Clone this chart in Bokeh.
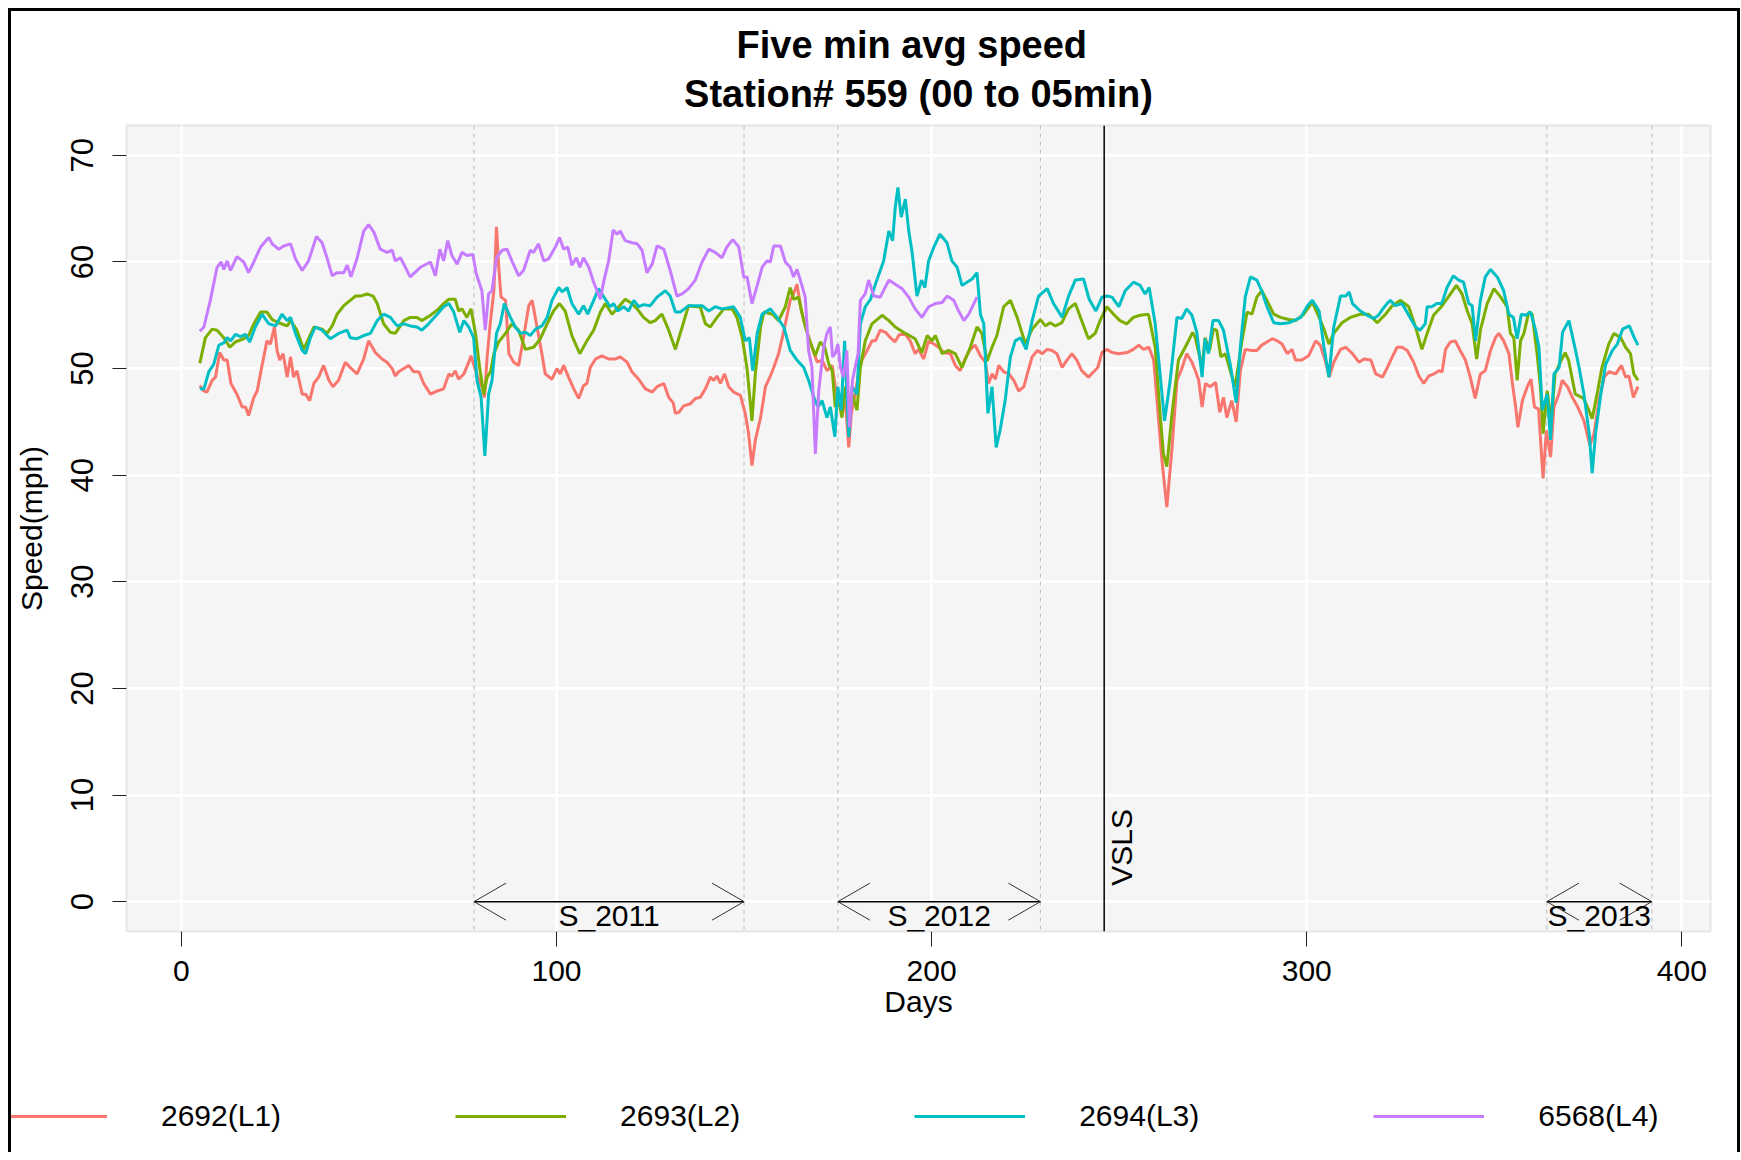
import math
from bokeh.plotting import figure
from bokeh.models import Range1d, FixedTicker, Span, Legend, LegendItem, Title, Div
from bokeh.core.properties import value
from bokeh.embed import file_html
from bokeh.resources import INLINE

FONT = "Liberation Sans"

series_names = ["2692(L1)", "2693(L2)", "2694(L3)", "6568(L4)"]
series_colors = ["#F8766D", "#7CAE00", "#00BFC4", "#C77CFF"]

l1_pts = [(4.9,48.4),(6.0,47.9),(6.8,47.8),(8.2,48.9),(9.1,49.2),(10.2,51.5),(11.3,50.8),(12.2,50.8),(13.2,48.6),(14.8,47.6),(16.2,46.4),(17.1,46.4),(17.9,45.6),(19.3,47.3),(20.2,47.9),(21.5,50.3),(22.8,52.6),(23.7,52.3),(24.8,53.9),(25.5,51.7),(26.2,50.8),(27.1,51.4),(28.2,49.2),(29.1,51.1),(29.9,49.2),(30.8,49.8),(32.2,47.6),(33.1,47.6),(34.2,47.0),(35.3,48.6),(36.6,49.2),(37.9,50.3),(39.3,48.9),(40.4,48.3),(41.9,48.9),(43.7,50.6),(45.0,50.1),(46.8,49.5),(48.6,50.9),(49.9,52.6),(51.7,51.5),(53.5,50.9),(54.8,50.6),(56.2,50.0),(57.0,49.3),(57.9,49.7),(59.3,50.0),(60.6,50.3),(61.9,49.7),(63.3,49.7),(64.6,48.6),(66.4,47.6),(68.2,47.9),(69.9,48.1),(71.3,49.5),(72.1,49.3),(73.0,49.8),(73.9,49.0),(75.3,49.5),(76.6,50.6),(77.2,51.2),(77.9,50.4),(79.0,49.2),(80.1,48.3),(80.8,47.3),(81.5,51.1),(82.4,54.5),(83.3,57.3),(84.0,63.3),(84.6,59.5),(85.2,56.7),(86.4,56.4),(87.3,51.4),(88.6,50.6),(89.9,50.3),(91.2,52.9),(92.6,55.9),(93.5,56.4),(94.8,53.9),(96.1,51.4),(97.0,49.5),(98.8,49.0),(100.1,50.0),(101.0,49.5),(101.9,50.3),(103.2,49.2),(104.6,48.1),(105.9,47.2),(107.2,48.4),(108.1,48.6),(109.0,50.1),(110.4,50.9),(112.1,51.2),(113.9,50.9),(115.7,50.9),(117.0,51.1),(118.8,50.6),(120.1,49.7),(121.9,49.0),(123.7,48.1),(125.5,47.8),(126.8,48.3),(128.6,48.6),(129.9,47.3),(131.1,46.8),(131.7,45.8),(132.6,45.9),(133.9,46.5),(135.7,46.7),(137.0,47.2),(138.3,47.3),(139.7,48.1),(141.0,49.2),(141.9,48.9),(142.8,49.3),(143.7,48.6),(144.8,49.5),(145.9,48.3),(147.2,47.8),(149.0,47.5),(150.3,45.8),(151.2,43.9),(152.1,40.9),(153.0,43.3),(154.4,45.4),(155.7,48.3),(157.0,49.3),(157.9,50.1),(159.2,51.4),(160.2,52.9),(161.0,54.2),(162.3,56.4),(163.2,57.0),(164.1,57.9),(165.3,55.4),(166.8,53.4),(168.1,52.0),(169.5,50.6),(170.8,50.8),(172.1,49.8),(173.5,50.3),(174.3,48.3),(175.2,47.0),(176.1,45.8),(177.0,47.0),(177.9,42.6),(178.6,45.8),(179.6,47.6),(180.5,49.5),(181.4,50.8),(182.8,51.7),(184.1,52.6),(185.0,52.6),(186.3,53.6),(187.7,53.4),(189.0,52.9),(190.2,52.5),(191.4,53.2),(193.0,53.2),(194.3,52.6),(195.6,51.4),(196.5,51.8),(197.9,50.9),(199.2,52.6),(200.6,52.3),(201.9,52.0),(203.2,51.5),(205.0,51.4),(206.3,50.3),(207.6,49.8),(208.9,50.9),(210.3,51.8),(211.6,52.2),(213.0,51.2),(214.3,50.6),(215.2,48.6),(216.1,49.5),(217.0,49.0),(217.9,50.3),(219.2,49.7),(220.6,49.5),(221.9,48.9),(223.2,47.9),(224.6,48.3),(225.5,49.5),(226.8,51.1),(228.2,51.7),(229.5,51.4),(230.8,51.8),(232.1,51.7),(233.4,51.4),(234.8,50.1),(236.1,50.8),(237.4,51.4),(238.7,50.8),(240.0,49.8),(241.8,49.2),(243.2,49.7),(244.3,50.1),(245.4,51.5),(246.7,51.8),(248.1,51.5),(249.9,51.4),(252.1,51.5),(253.8,51.8),(255.2,52.2),(256.5,51.8),(257.9,52.0),(259.2,50.8),(260.3,46.1),(261.4,41.4),(262.7,37.0),(264.1,42.6),(265.4,48.9),(266.7,50.0),(268.0,51.4),(269.4,50.6),(270.3,49.8),(271.2,48.9),(272.1,46.4),(273.0,48.6),(274.3,48.3),(275.7,48.7),(276.8,45.9),(277.8,47.3),(278.7,45.4),(280.0,47.0),(281.2,45.0),(282.3,49.8),(283.6,51.8),(285.4,51.7),(286.7,51.7),(288.0,52.2),(289.4,52.5),(290.8,52.8),(292.1,52.6),(293.4,52.3),(294.8,51.4),(296.1,51.8),(297.0,50.8),(298.7,50.8),(300.5,51.2),(302.4,52.6),(303.6,52.2),(304.9,50.8),(306.0,49.2),(307.2,50.6),(309.0,51.8),(310.4,52.0),(312.2,51.4),(313.9,50.6),(315.3,50.9),(317.1,50.8),(318.4,49.5),(320.2,49.2),(321.5,50.1),(322.8,51.1),(324.1,52.0),(325.4,52.0),(326.8,51.7),(328.5,50.6),(329.9,49.3),(331.2,48.6),(332.5,49.3),(333.9,49.5),(335.2,49.8),(336.1,49.7),(337.0,51.8),(338.3,52.5),(339.6,52.6),(340.9,51.7),(342.3,50.8),(343.6,49.2),(344.9,47.2),(346.3,49.5),(347.6,49.8),(349.0,51.7),(350.3,52.9),(351.2,53.3),(352.5,52.6),(353.9,51.4),(354.8,48.7),(355.7,46.4),(356.3,44.5),(357.5,47.0),(358.8,48.3),(359.8,49.0),(360.7,46.4),(361.8,46.2),(363.0,39.7),(363.9,44.2),(365.0,41.7),(365.9,46.4),(367.2,47.6),(368.1,48.9),(369.5,48.3),(370.8,47.3),(372.1,46.5),(373.9,45.1),(375.5,42.8),(376.6,43.9),(377.9,47.0),(379.3,49.2),(380.6,49.7),(382.4,49.5),(383.9,50.3),(385.0,49.2),(385.9,49.3),(387.1,47.3),(388.3,48.3)]

l2_pts = [(4.9,50.5),(6.4,52.9),(8.2,53.7),(9.5,53.6),(11.3,52.9),(12.9,52.0),(14.4,52.5),(16.6,52.8),(17.9,53.1),(19.3,54.2),(21.1,55.3),(22.8,55.3),(24.2,54.6),(25.9,54.3),(28.2,54.0),(29.1,54.5),(30.8,53.6),(32.6,51.8),(35.3,53.9),(37.5,53.7),(38.8,53.3),(40.2,54.0),(41.5,55.1),(43.3,55.9),(45.0,56.4),(46.4,56.8),(47.7,56.8),(49.5,57.0),(51.1,56.8),(52.2,56.1),(53.9,54.2),(55.7,53.4),(57.0,53.3),(59.3,54.5),(61.0,54.8),(62.8,54.8),(64.1,54.5),(66.4,55.0),(68.6,55.6),(69.9,56.1),(71.3,56.5),(73.0,56.5),(73.9,55.4),(74.8,55.6),(76.1,54.8),(77.2,55.6),(78.4,53.3),(79.5,50.1),(80.6,47.6),(81.5,49.2),(82.4,49.7),(83.3,51.4),(84.6,52.5),(86.4,53.3),(88.1,54.2),(89.9,53.6),(91.7,51.8),(93.9,52.0),(95.7,52.8),(97.5,54.2),(99.2,55.4),(100.8,56.1),(102.3,55.4),(104.1,53.1),(106.2,51.4),(108.1,52.6),(109.9,53.6),(111.7,55.3),(113.0,56.1),(114.8,55.1),(116.6,55.8),(118.3,56.5),(119.7,56.2),(121.5,55.6),(123.2,54.8),(125.0,54.3),(126.3,54.5),(128.1,55.1),(129.9,53.6),(131.7,51.8),(133.5,53.9),(135.2,55.9),(137.0,55.8),(138.3,55.8),(139.7,54.2),(141.0,53.9),(142.8,54.8),(144.6,55.6),(146.8,55.6),(148.1,54.8),(149.5,52.9),(150.8,50.0),(152.1,45.1),(153.0,49.5),(154.4,53.9),(155.3,55.3),(157.6,55.1),(159.2,54.5),(161.0,55.8),(162.3,57.6),(163.2,56.5),(164.5,56.7),(165.9,54.5),(167.2,52.9),(169.0,51.2),(170.3,52.5),(171.5,52.0),(172.6,50.4),(173.5,49.8),(174.3,46.4),(175.4,46.7),(176.1,45.4),(177.0,48.3),(177.9,46.4),(178.8,47.6),(180.1,46.1),(181.0,50.1),(182.3,52.6),(184.1,54.2),(186.8,55.0),(188.6,54.5),(190.3,53.9),(193.0,53.3),(195.6,52.8),(197.4,51.5),(198.8,53.1),(200.1,52.6),(201.0,53.1),(202.8,51.4),(204.5,51.7),(206.3,51.4),(208.1,50.1),(210.3,52.0),(212.1,53.9),(213.4,53.3),(214.8,50.7),(216.1,52.0),(217.4,53.1),(219.2,55.8),(221.0,56.4),(222.8,54.8),(225.0,52.3),(226.8,53.7),(229.0,54.6),(230.3,54.0),(231.6,54.3),(233.0,54.0),(234.7,54.3),(236.5,55.6),(238.3,56.1),(240.0,54.5),(241.8,52.8),(243.6,53.3),(244.9,54.5),(246.7,55.8),(248.5,55.1),(250.2,54.5),(252.0,54.2),(253.8,54.8),(255.6,55.0),(257.8,55.1),(259.6,52.0),(260.9,45.8),(261.8,42.0),(262.7,40.8),(264.1,45.8),(265.8,50.8),(267.6,52.0),(269.6,53.4),(270.3,52.9),(272.1,50.1),(272.9,52.9),(274.1,51.7),(275.1,53.7),(276.0,53.6),(277.1,51.1),(278.3,51.4),(279.6,49.8),(280.9,48.3),(282.6,52.3),(284.1,55.3),(285.4,55.1),(286.7,56.7),(288.0,57.3),(289.4,56.4),(291.2,55.1),(293.0,54.8),(295.2,54.6),(297.0,54.5),(299.2,55.1),(301.5,56.2),(303.3,54.8),(304.6,53.7),(305.9,52.3),(307.2,53.3),(309.4,54.3),(311.6,54.8),(314.3,55.1),(316.5,55.1),(318.8,54.3),(321.0,55.1),(322.8,55.9),(325.0,56.4),(327.2,55.8),(329.0,53.9),(330.7,51.8),(332.1,53.3),(333.8,55.0),(336.1,55.9),(337.9,56.8),(339.9,57.8),(341.4,57.0),(342.8,55.4),(344.1,54.2),(345.3,50.9),(346.3,53.6),(348.1,56.1),(349.9,57.5),(351.7,56.7),(353.4,55.8),(354.3,53.3),(355.2,52.9),(356.1,48.9),(357.0,52.6),(357.9,53.3),(359.2,55.3),(360.1,55.1),(361.4,51.4),(362.3,48.3),(363.0,43.9),(364.1,47.9),(365.2,45.1),(366.2,49.5),(367.6,50.6),(368.9,51.5),(369.8,50.8),(371.6,47.6),(373.8,47.2),(375.2,46.1),(376.1,45.3),(377.4,47.6),(378.7,50.1),(380.5,52.3),(381.9,53.3),(383.7,52.9),(385.0,52.0),(386.3,51.4),(387.2,49.5),(388.3,48.9)]

l3_pts = [(4.9,48.1),(6.0,48.1),(7.3,49.7),(8.6,50.4),(10.0,52.2),(11.3,52.4),(12.2,52.9),(13.1,52.6),(14.4,53.2),(15.7,53.0),(17.1,53.2),(18.2,52.5),(19.7,53.9),(21.5,55.1),(23.3,54.2),(25.1,54.0),(26.8,55.1),(28.2,54.5),(29.1,54.8),(30.4,53.3),(32.2,51.7),(33.1,51.4),(34.4,52.9),(35.7,53.9),(37.5,53.6),(39.7,52.8),(41.9,53.3),(44.2,53.6),(45.0,52.9),(46.8,52.8),(48.6,53.1),(50.4,53.3),(52.2,54.5),(53.9,55.1),(55.7,54.8),(57.5,54.0),(59.3,54.2),(61.0,54.0),(62.8,53.9),(64.1,53.6),(65.9,54.2),(68.2,55.1),(69.9,55.8),(71.3,56.1),(72.6,55.3),(74.2,53.4),(75.3,54.5),(76.6,53.9),(77.9,52.9),(78.8,48.9),(79.9,47.3),(80.9,41.8),(81.9,47.6),(82.8,48.9),(84.0,53.3),(85.0,54.2),(86.1,56.1),(87.7,54.8),(89.0,53.9),(90.4,53.3),(91.7,53.4),(93.0,53.1),(94.4,53.7),(96.1,54.0),(97.5,54.8),(98.8,56.4),(100.6,57.6),(101.5,57.2),(102.8,57.6),(104.1,56.1),(105.9,55.1),(107.2,55.9),(108.3,55.1),(109.9,56.4),(111.2,57.5),(113.0,56.5),(114.3,55.8),(115.2,56.1),(116.3,55.4),(117.9,55.8),(119.2,55.4),(120.6,56.4),(121.9,55.8),(123.2,56.0),(125.0,55.9),(126.8,56.7),(129.0,57.3),(130.3,56.8),(131.7,55.3),(133.0,55.3),(135.2,55.9),(138.8,55.9),(140.6,55.4),(142.3,55.8),(144.1,55.6),(147.2,55.8),(149.0,54.8),(150.3,52.6),(151.4,52.9),(152.3,49.8),(153.5,53.3),(154.8,55.1),(157.0,55.6),(158.8,54.8),(160.6,53.9),(162.3,51.7),(164.1,50.8),(165.9,50.1),(167.2,48.9),(168.6,47.3),(169.7,46.4),(170.8,47.0),(172.1,45.4),(173.0,46.4),(174.2,43.6),(175.0,48.3),(175.9,46.1),(176.8,52.6),(177.9,43.6),(178.8,48.3),(180.1,47.6),(181.0,54.2),(182.3,55.8),(183.7,56.5),(185.0,57.9),(186.4,59.3),(187.2,60.1),(188.6,62.9),(189.6,62.0),(190.3,65.1),(191.0,67.0),(191.9,64.2),(193.0,65.9),(193.9,62.9),(194.8,60.9),(196.1,56.8),(197.3,58.3),(198.2,57.6),(199.2,60.1),(200.6,61.4),(202.2,62.6),(204.1,61.8),(205.4,60.1),(206.8,59.5),(208.1,57.8),(209.4,58.1),(210.8,58.4),(212.1,59.0),(213.0,55.1),(213.9,54.2),(215.0,45.8),(216.1,48.3),(217.2,42.6),(218.3,44.3),(219.6,47.0),(221.0,51.1),(222.3,52.6),(223.7,52.9),(225.2,51.8),(226.8,54.5),(228.5,56.8),(230.8,57.5),(232.5,56.1),(234.8,54.8),(236.5,56.8),(238.3,58.3),(240.5,58.4),(242.0,56.5),(243.8,55.4),(245.4,56.7),(246.7,56.8),(248.1,56.7),(249.9,55.8),(251.6,57.3),(253.8,58.1),(255.6,57.8),(256.9,57.0),(258.0,57.6),(259.6,54.2),(260.9,49.5),(262.1,45.1),(263.6,48.9),(265.4,54.8),(266.7,54.7),(268.0,55.6),(269.4,55.0),(270.7,53.4),(272.1,49.2),(272.9,52.8),(273.8,51.4),(275.0,54.5),(276.5,54.5),(277.8,53.6),(279.6,50.4),(281.2,46.8),(282.3,52.0),(283.6,56.7),(285.0,58.6),(286.7,58.3),(288.0,57.3),(289.4,55.8),(291.2,54.3),(293.0,54.2),(295.2,54.3),(296.6,54.5),(298.4,54.8),(300.2,55.9),(301.5,56.4),(303.3,55.4),(304.6,52.0),(305.9,49.2),(307.2,53.9),(309.0,56.8),(310.4,56.8),(311.3,57.2),(312.2,56.1),(314.3,55.4),(316.1,55.0),(317.9,54.7),(319.1,55.0),(320.3,55.6),(321.4,56.1),(322.3,56.4),(323.6,55.9),(325.4,56.1),(327.2,55.0),(329.0,53.9),(330.2,53.6),(331.6,54.2),(332.1,55.8),(333.3,55.8),(334.7,56.1),(336.0,56.1),(337.4,57.6),(339.1,58.7),(340.5,58.3),(341.8,58.1),(343.2,56.1),(344.1,55.9),(345.0,52.6),(346.3,56.4),(347.6,58.6),(349.0,59.3),(350.8,58.6),(352.5,57.3),(353.9,55.1),(355.1,54.8),(356.1,52.8),(357.2,55.1),(358.4,55.0),(359.7,55.3),(361.0,53.6),(361.9,52.0),(362.8,46.1),(364.1,47.6),(365.0,43.3),(365.9,49.5),(367.3,50.1),(368.2,53.4),(369.9,54.5),(371.3,52.3),(372.6,50.1),(373.9,47.6),(375.3,43.9),(376.1,40.2),(377.0,43.9),(378.4,47.6),(379.7,50.4),(381.5,51.7),(382.8,52.3),(384.2,53.7),(386.0,54.0),(387.3,52.9),(388.3,52.2)]

l4_pts = [(4.9,53.5),(6.0,53.9),(7.7,56.4),(9.5,59.5),(10.6,60.0),(11.3,59.3),(12.2,60.1),(13.1,59.2),(14.8,60.5),(16.6,60.0),(17.9,59.0),(19.3,60.0),(21.1,61.4),(23.3,62.3),(24.2,61.7),(25.9,61.2),(27.3,61.5),(29.1,61.7),(30.4,60.3),(32.2,59.2),(33.9,60.1),(36.0,62.4),(37.5,61.8),(38.8,60.4),(40.2,58.7),(41.5,59.0),(43.3,59.0),(44.2,59.7),(45.2,58.6),(46.8,60.3),(48.6,62.9),(49.9,63.5),(51.3,62.8),(53.0,61.2),(54.8,60.9),(56.2,61.1),(57.0,60.1),(58.4,60.4),(61.0,58.6),(63.7,59.5),(66.4,60.0),(67.7,58.7),(68.9,61.2),(69.9,60.1),(71.0,62.0),(72.1,60.6),(73.5,59.8),(74.8,60.9),(76.1,60.6),(77.7,60.7),(78.6,58.9),(80.1,57.3),(81.0,53.6),(81.9,57.0),(82.8,57.3),(84.0,60.4),(85.5,61.1),(86.8,61.2),(88.1,60.1),(89.9,58.7),(91.2,59.2),(93.0,61.1),(93.9,60.9),(95.2,61.7),(96.6,60.1),(97.9,60.3),(99.7,61.4),(100.8,62.3),(101.9,61.2),(103.0,61.4),(104.1,59.7),(105.3,60.4),(106.2,59.5),(107.2,60.4),(108.6,59.5),(109.9,58.1),(111.7,56.5),(112.6,58.2),(113.9,60.1),(115.1,63.0),(116.1,62.6),(117.0,62.9),(118.3,62.0),(120.1,61.8),(121.5,61.7),(122.8,61.1),(124.1,59.0),(125.5,59.8),(126.8,61.5),(128.6,61.2),(130.3,59.2),(132.1,56.8),(133.5,57.0),(135.2,57.5),(137.0,58.3),(138.8,60.0),(140.6,61.2),(142.3,60.9),(144.1,60.4),(145.4,61.4),(147.0,62.1),(148.6,61.4),(149.9,58.6),(150.8,58.6),(152.1,56.1),(153.5,57.8),(154.8,59.5),(156.1,60.1),(157.0,60.0),(157.9,61.5),(159.7,61.5),(161.0,60.0),(162.3,59.5),(163.2,58.6),(164.1,59.3),(165.0,58.3),(166.3,56.7),(167.2,51.7),(168.1,50.1),(169.0,42.0),(169.9,47.9),(171.2,52.0),(172.1,53.3),(173.0,53.9),(173.6,51.1),(174.3,51.4),(175.0,52.3),(175.7,50.1),(176.5,49.2),(177.4,51.7),(178.1,44.5),(178.9,48.9),(179.6,50.1),(180.4,51.4),(181.0,56.4),(182.3,57.0),(183.2,58.3),(184.6,56.8),(186.3,56.7),(188.6,58.3),(190.3,57.9),(192.1,57.5),(193.9,56.7),(195.6,55.6),(197.4,54.8),(199.2,55.8),(201.0,56.1),(202.8,56.2),(204.1,56.8),(205.9,56.4),(207.2,55.4),(208.6,54.5),(209.9,55.1),(212.1,56.7)]

season_labels = ["S_2011", "S_2012", "S_2013"]
season_start = [78, 175, 364]
season_end = [150, 229, 392]
vsls_day = 246
vsls_label = "VSLS"

x_ticks = [0, 100, 200, 300, 400]
y_ticks = [0, 10, 20, 30, 40, 50, 60, 70]
x_lim = (1, 392)
y_lim = (0, 70)

title_line1 = "Five min avg speed"
title_line2 = "Station# 559 (00 to 05min)"
x_label = "Days"
y_label = "Speed(mph)"

# ---------------------------------------------------------------
W = 1726
H_MAIN = 1040
H_LEG = 101
X0, Y0 = 11, 11   # canvas origin inside the 3px frame border drawn at the page margin

xpad = 0.04 * (x_lim[1] - x_lim[0])
ypad = 0.04 * (y_lim[1] - y_lim[0])

p = figure(width=W, height=H_MAIN, output_backend="svg", toolbar_location=None,
           title=None,
           x_range=Range1d(x_lim[0] - xpad, x_lim[1] + xpad),
           y_range=Range1d(y_lim[0] - ypad, y_lim[1] + ypad),
           min_border_left=115, min_border_right=27,
           min_border_top=114, min_border_bottom=120)
p.styles = {"position": "absolute", "left": f"{X0}px", "top": f"{Y0}px"}

p.background_fill_color = "#F5F5F5"
p.border_fill_color = "white"
p.outline_line_color = "#E6E6E6"
p.outline_line_width = 2

p.add_layout(Title(text=title_line2, text_font=FONT, text_font_size="38px",
                   text_font_style="bold", text_color="black", align="center",
                   standoff=21), "above")
p.add_layout(Title(text=title_line1, text_font=FONT, text_font_size="38px",
                   text_font_style="bold", text_color="black", align="left",
                   offset=610, standoff=-11), "above")

for ax in (p.xaxis[0], p.yaxis[0]):
    ax.axis_line_color = None
    ax.major_tick_line_color = "#222222"
    ax.major_tick_line_width = 1
    ax.minor_tick_line_color = None
    ax.major_tick_in = 0
    ax.major_label_text_font = FONT
    ax.major_label_text_color = "black"
    ax.axis_label_text_font = FONT
    ax.axis_label_text_font_style = "normal"
    ax.axis_label_text_color = "black"

p.xaxis.ticker = FixedTicker(ticks=x_ticks)
p.yaxis.ticker = FixedTicker(ticks=y_ticks)
p.xaxis.major_tick_out = 15
p.yaxis.major_tick_out = 14
p.xaxis.major_label_text_font_size = "30px"
p.yaxis.major_label_text_font_size = "31px"
p.xaxis.major_label_standoff = 14
p.yaxis.major_label_standoff = 19
p.yaxis.major_label_orientation = "vertical"
p.xaxis.axis_label = x_label
p.yaxis.axis_label = y_label
p.xaxis.axis_label_text_font_size = "30px"
p.yaxis.axis_label_text_font_size = "30px"
p.xaxis.axis_label_standoff = 1
p.yaxis.axis_label_standoff = 21

p.xgrid.grid_line_color = "white"
p.xgrid.grid_line_width = 2.5
p.ygrid.grid_line_color = "white"
p.ygrid.grid_line_width = 3

# season boundaries (dashed)
for d in season_start + season_end:
    p.add_layout(Span(location=d, dimension="height", line_color="#BDBDBD",
                      line_width=1, line_dash="4 4", level="underlay"))

# data lines
for pts, col in zip([l1_pts, l2_pts, l3_pts, l4_pts], series_colors):
    xs = [a for a, b in pts]
    ys = [b for a, b in pts]
    p.line(xs, ys, line_color=col, line_width=3)

# VSLS marker
p.add_layout(Span(location=vsls_day, dimension="height", line_color="black", line_width=1.5))
p.text(x=[vsls_day], y=[1.5], text=[vsls_label], angle=math.pi / 2,
       text_font=value(FONT), text_font_size="30px", text_align="left",
       text_baseline="top", x_offset=1, text_color="black")

# season arrows
p.segment(x0=season_start, y0=[0] * 3, x1=season_end, y1=[0] * 3,
          line_color="black", line_width=1.5)
head = math.radians(30)
hx, hy, ha = [], [], []
for s, e in zip(season_start, season_end):
    hx += [s, s, e, e]
    hy += [0, 0, 0, 0]
    ha += [head, -head, math.pi - head, math.pi + head]
p.ray(x=hx, y=hy, length=37, length_units="screen", angle=ha,
      line_color="#333333", line_width=1)
mid = [(s + e) / 2 for s, e in zip(season_start, season_end)]
p.text(x=mid, y=[0] * 3, text=season_labels, text_font=value(FONT),
       text_font_size="30px", text_align="center", text_baseline="top",
       y_offset=-3, text_color="black")

# legend strip: a second canvas right below the plot whose frame spans its whole width
q = figure(width=W, height=H_LEG, output_backend="svg", toolbar_location=None,
           title=None, x_axis_location=None, y_axis_location=None,
           x_range=Range1d(0, 1), y_range=Range1d(0, 1),
           min_border=0)
q.styles = {"position": "absolute", "left": f"{X0}px", "top": f"{Y0 + H_MAIN}px"}
q.outline_line_color = None
q.background_fill_color = "white"
q.border_fill_color = "white"
q.grid.visible = False
# legend proxies: same line styles, data placed outside the visible range
proxies = [q.line(x=[-2, -1], y=[-2, -2], line_color=c, line_width=3) for c in series_colors]
legend = Legend(items=[LegendItem(label=n, renderers=[r]) for n, r in zip(series_names, proxies)],
                orientation="horizontal", location=(-15, 19),
                glyph_width=111, glyph_height=34, label_height=34,
                label_standoff=54, spacing=174,
                padding=0, margin=0, border_line_color=None, background_fill_alpha=0,
                label_text_font=FONT, label_text_font_size="30px", label_text_color="black")
q.add_layout(legend, "center")

# outer frame border (left, top, right) at the page margin
frame_border = Div(text="", width=W, height=H_MAIN + H_LEG, margin=0,
                   styles={"position": "absolute", "left": "8px", "top": "8px",
                           "box-sizing": "content-box", "pointer-events": "none",
                           "background": "transparent", "margin": "0px",
                           "border-left": "3px solid black", "border-top": "3px solid black",
                           "border-right": "3px solid black"})

open("out.html", "w").write(file_html([p, q, frame_border], INLINE))
